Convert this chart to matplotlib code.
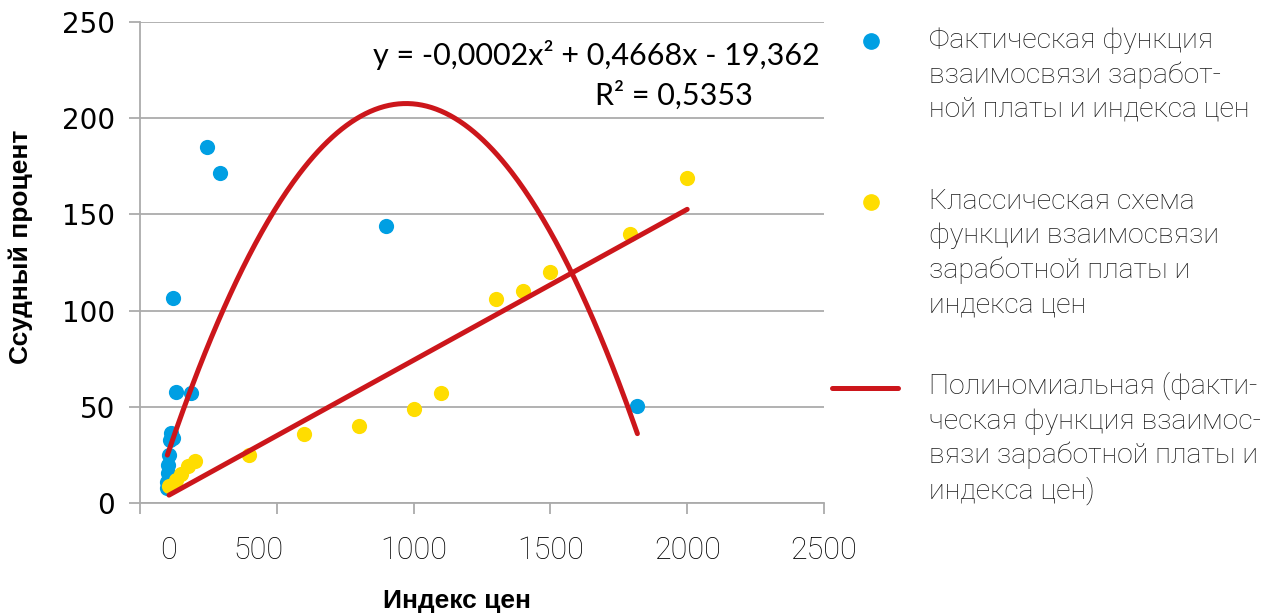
import numpy as np
import matplotlib
matplotlib.use("Agg")
import matplotlib.pyplot as plt
from matplotlib.lines import Line2D
from matplotlib.transforms import ScaledTranslation

# фактические точки (индекс цен, ссудный процент)
fact_x = [100, 100, 102, 104, 106, 110, 115, 120, 120, 131, 186, 245, 292, 898, 1818]
fact_y = [8, 11, 15.6, 19.8, 25, 32.7, 36.4, 34, 106.5, 57.7, 57.2, 185, 171.5, 144, 50.4]

# классическая схема
class_x = [106, 131, 150, 175, 200, 400, 600, 800, 1000, 1100, 1300, 1400, 1500, 1790, 2000]
class_y = [9, 12, 15, 19, 22, 25, 36, 40, 49, 57, 106, 110, 120, 140, 169]

# полиномиальный тренд 2-й степени и его R²
poly_coef = [-0.00024, 0.4668, -19.362]
r2 = 0.5353

x_ticks = [0, 500, 1000, 1500, 2000, 2500]
y_ticks = [0, 50, 100, 150, 200, 250]

labels = [
    "Фактическая функция\nвзаимосвязи заработ-\nной платы и индекса цен",
    "Классическая схема\nфункции взаимосвязи\nзаработной платы и\nиндекса цен",
    "Полиномиальная (факти-\nческая функция взаимос-\nвязи заработной платы и\nиндекса цен)",
]

blue = "#009FE3"
yellow = "#FFDD00"
red = "#CC161B"
grid = "#ABABAB"

fig = plt.figure(figsize=(12.86, 6.16), dpi=100)
ax = fig.add_axes([140 / 1286, 1 - 503 / 616, 684 / 1286, 481 / 616])

ax.set_xlim(0, 2500)
ax.set_ylim(0, 250)
ax.set_yticks(y_ticks)
ax.set_xticks(x_ticks)
ax.set_xticklabels([str(v) for v in x_ticks])
ax.yaxis.grid(True, color=grid, linewidth=1.3)
ax.set_axisbelow(True)
for s in ("top", "right"):
    ax.spines[s].set_visible(False)
for s in ("left", "bottom"):
    ax.spines[s].set_color(grid)
    ax.spines[s].set_linewidth(1.3)
ax.tick_params(axis="both", direction="out", color=grid, width=1.3, length=8)
ax.tick_params(axis="y", labelsize=20, pad=10)
ax.tick_params(axis="x", pad=16)
for lbl in ax.get_xticklabels():
    lbl.set_family("Roboto")
    lbl.set_fontsize(22)
    lbl.set_fontweight("light")
# подписи 0 и 500 смещены
for lbl, dx in zip(ax.get_xticklabels(), [29, -18, 0, 0, 0, 0]):
    lbl.set_transform(lbl.get_transform() + ScaledTranslation(dx / 100, 0, fig.dpi_scale_trans))

ax.scatter(fact_x, fact_y, s=120, color=blue, zorder=3, linewidths=0)
ax.scatter(class_x, class_y, s=120, color=yellow, zorder=3, linewidths=0)

# тренды
xs = np.linspace(min(fact_x), max(fact_x), 300)
ax.plot(xs, np.polyval(poly_coef, xs), color=red, linewidth=3.6, zorder=4,
        solid_capstyle="round")
lin = np.polyfit(class_x, class_y, 1)
xl = np.array([min(class_x), max(class_x)])
ax.plot(xl, np.polyval(lin, xl), color=red, linewidth=3.6, zorder=4,
        solid_capstyle="round")

eq = (f"y = -{abs(poly_coef[0]):.4f}".replace(".", ",") + "x² + "
      + f"{poly_coef[1]:.4f}".replace(".", ",") + "x - "
      + f"{abs(poly_coef[2]):.3f}".replace(".", ","))
ax.text(0.994, 0.931, eq, transform=ax.transAxes, ha="right", va="center",
        fontsize=22, family="Lato")
ax.text(0.896, 0.848, f"R² = {r2:.4f}".replace(".", ","), transform=ax.transAxes,
        ha="right", va="center", fontsize=22, family="Lato")

ax.set_xlabel("Индекс цен", fontsize=19, fontweight="bold", family="Liberation Sans")
ax.xaxis.set_label_coords(0.463, -0.204)
ax.xaxis.label.set_va("center")
ax.set_ylabel("Ссудный процент", fontsize=19, fontweight="bold", family="Liberation Sans")
ax.yaxis.set_label_coords(-0.175, 0.532)
ax.yaxis.label.set_va("center")

# легенда
W, H = 1286, 616
fig.add_artist(Line2D([870.7 / W], [1 - 40.7 / H], marker="o", markersize=11,
                      color=blue, linestyle="none"))
fig.add_artist(Line2D([870.7 / W], [1 - 202 / H], marker="o", markersize=11,
                      color=yellow, linestyle="none"))
fig.add_artist(Line2D([832 / W, 898 / W], [1 - 388 / H] * 2, color=red,
                      linewidth=3.6, solid_capstyle="round"))
for txt, top in zip(labels, [27, 188, 372]):
    fig.text(929 / W, 1 - top / H, txt, ha="left", va="top", fontsize=20.5,
             family="Roboto", fontweight="light", color="#1a1a1a", linespacing=1.34)

fig.savefig("out.png", dpi=100)
